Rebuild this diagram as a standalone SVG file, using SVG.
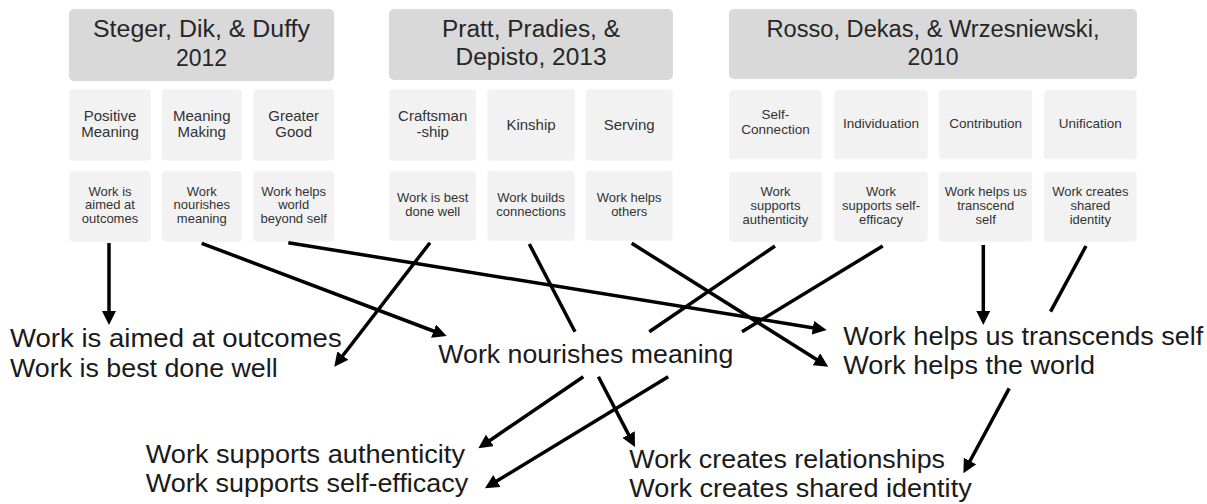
<svg xmlns="http://www.w3.org/2000/svg" width="1207" height="504" viewBox="0 0 1207 504">
<style>
.hdr{fill:#d9d9d9}
.sub{fill:#f2f2f2}
text{font-family:"Liberation Sans",Arial,sans-serif}
.ht{font-size:23px;fill:#262626;text-anchor:middle}
.s1{font-size:15px;fill:#333;text-anchor:middle}
.s1r{font-size:13.5px;fill:#333;text-anchor:middle}
.s2{font-size:13px;fill:#333;text-anchor:middle}
.big{font-size:25px;fill:#1a1a1a}
.conn path{fill:none;stroke:#000;stroke-width:3.5;marker-end:url(#ah)}
</style>
<defs>
<marker id="ah" markerUnits="userSpaceOnUse" markerWidth="14" markerHeight="14" viewBox="0 0 14 14" refX="4" refY="7" orient="auto"><path d="M0,0 L14,7 L0,14 z" fill="#000"/></marker>
</defs>
<rect width="1207" height="504" fill="#fff"/>

<g id="steger">
<rect class="hdr" x="69" y="9" width="265" height="72" rx="5"/>
<text class="ht" x="201.5" y="37.3" textLength="217" lengthAdjust="spacingAndGlyphs">Steger, Dik, &amp; Duffy</text>
<text class="ht" x="201.5" y="65.7">2012</text>
</g>
<g id="pratt">
<rect class="hdr" x="389" y="9" width="284" height="71" rx="5"/>
<text class="ht" x="531" y="37.3" textLength="178" lengthAdjust="spacingAndGlyphs">Pratt, Pradies, &amp;</text>
<text class="ht" x="531" y="65" textLength="151" lengthAdjust="spacingAndGlyphs">Depisto, 2013</text>
</g>
<g id="rosso">
<rect class="hdr" x="729" y="9" width="408" height="70" rx="5"/>
<text class="ht" x="933" y="37.3" textLength="333" lengthAdjust="spacingAndGlyphs">Rosso, Dekas, &amp; Wrzesniewski,</text>
<text class="ht" x="933" y="65">2010</text>
</g>

<g id="positive-meaning">
<rect class="sub" x="69.3" y="89.3" width="81.4" height="71.4" rx="4"/>
<text class="s1" x="110" y="120.7">Positive</text>
<text class="s1" x="110" y="137.3">Meaning</text>
</g>
<g id="meaning-making">
<rect class="sub" x="162" y="89.3" width="79.7" height="71.4" rx="4"/>
<text class="s1" x="201.8" y="120.7">Meaning</text>
<text class="s1" x="201.8" y="137.3">Making</text>
</g>
<g id="greater-good">
<rect class="sub" x="253.3" y="89.3" width="80.7" height="71.4" rx="4"/>
<text class="s1" x="293.7" y="120.7">Greater</text>
<text class="s1" x="293.7" y="137.3">Good</text>
</g>
<g id="outcomes-box">
<rect class="sub" x="69.3" y="170.7" width="81.4" height="71" rx="4"/>
<text class="s2" x="110" y="195.5">Work is</text>
<text class="s2" x="110" y="209">aimed at</text>
<text class="s2" x="110" y="222.5">outcomes</text>
</g>
<g id="nourishes-box">
<rect class="sub" x="162" y="170.7" width="79.7" height="71" rx="4"/>
<text class="s2" x="201.8" y="195.5">Work</text>
<text class="s2" x="201.8" y="209">nourishes</text>
<text class="s2" x="201.8" y="222.5">meaning</text>
</g>
<g id="beyond-self-box">
<rect class="sub" x="253.3" y="170.7" width="80.7" height="71" rx="4"/>
<text class="s2" x="293.7" y="195.5">Work helps</text>
<text class="s2" x="293.7" y="209">world</text>
<text class="s2" x="293.7" y="222.5">beyond self</text>
</g>

<g id="craftsmanship">
<rect class="sub" x="389.3" y="89.3" width="86.7" height="71.4" rx="4"/>
<text class="s1" x="432.7" y="120.7">Craftsman</text>
<text class="s1" x="432.7" y="136.7">-ship</text>
</g>
<g id="kinship">
<rect class="sub" x="487.3" y="89.3" width="87.7" height="71.4" rx="4"/>
<text class="s1" x="531" y="130">Kinship</text>
</g>
<g id="serving">
<rect class="sub" x="585.7" y="89.3" width="87" height="71.4" rx="4"/>
<text class="s1" x="629.2" y="130">Serving</text>
</g>
<g id="done-well-box">
<rect class="sub" x="389.3" y="170.7" width="86.7" height="70" rx="4"/>
<text class="s2" x="432.7" y="202.3">Work is best</text>
<text class="s2" x="432.7" y="215.7">done well</text>
</g>
<g id="connections-box">
<rect class="sub" x="487.3" y="170.7" width="87.7" height="70" rx="4"/>
<text class="s2" x="531" y="202.3">Work builds</text>
<text class="s2" x="531" y="215.7">connections</text>
</g>
<g id="others-box">
<rect class="sub" x="585.7" y="170.7" width="87" height="70" rx="4"/>
<text class="s2" x="629.2" y="202.3">Work helps</text>
<text class="s2" x="629.2" y="215.7">others</text>
</g>

<g id="self-connection">
<rect class="sub" x="729.3" y="90" width="92.4" height="69.3" rx="4"/>
<text class="s1r" x="775.5" y="119.3">Self-</text>
<text class="s1r" x="775.5" y="134.3">Connection</text>
</g>
<g id="individuation">
<rect class="sub" x="834.3" y="90" width="93.4" height="69.3" rx="4"/>
<text class="s1r" x="881" y="128.3">Individuation</text>
</g>
<g id="contribution">
<rect class="sub" x="939" y="90" width="93.3" height="69.3" rx="4"/>
<text class="s1r" x="985.7" y="128.3">Contribution</text>
</g>
<g id="unification">
<rect class="sub" x="1044" y="90" width="92.7" height="69.3" rx="4"/>
<text class="s1r" x="1090.3" y="128.3">Unification</text>
</g>
<g id="authenticity-box">
<rect class="sub" x="729.3" y="171.7" width="92.4" height="70" rx="4"/>
<text class="s2" x="775.5" y="196">Work</text>
<text class="s2" x="775.5" y="210">supports</text>
<text class="s2" x="775.5" y="224">authenticity</text>
</g>
<g id="self-efficacy-box">
<rect class="sub" x="834.3" y="171.7" width="93.4" height="70" rx="4"/>
<text class="s2" x="881" y="196">Work</text>
<text class="s2" x="881" y="210">supports self-</text>
<text class="s2" x="881" y="224">efficacy</text>
</g>
<g id="transcend-box">
<rect class="sub" x="939" y="171.7" width="93.3" height="70" rx="4"/>
<text class="s2" x="985.7" y="196">Work helps us</text>
<text class="s2" x="985.7" y="210">transcend</text>
<text class="s2" x="985.7" y="224">self</text>
</g>
<g id="shared-identity-box">
<rect class="sub" x="1044" y="171.7" width="92.7" height="70" rx="4"/>
<text class="s2" x="1090.3" y="196">Work creates</text>
<text class="s2" x="1090.3" y="210">shared</text>
<text class="s2" x="1090.3" y="224">identity</text>
</g>

<g id="connectors" class="conn">
<path d="M109,243 L109,315"/>
<path d="M201.7,243.3 L437.3,332.5"/>
<path d="M288.3,242.7 L816.8,328.4"/>
<path d="M430,242.7 L340.4,358.8"/>
<path d="M529.3,244 L575,331.7 M598.4,376.7 L630.4,438.1"/>
<path d="M631.7,243.3 L819.8,361.4"/>
<path d="M775,246 L649.3,331.7 M583.3,376.7 L486.6,442.7"/>
<path d="M882.7,246 L742,331.7 M668.2,376.7 L493.5,483.1"/>
<path d="M983.3,245 L983.3,315"/>
<path d="M1086,246 L1050.5,311.7 M1009.2,388.3 L968.1,464.5"/>
</g>

<g id="label-left">
<text class="big" x="10" y="347.3" textLength="331.7" lengthAdjust="spacingAndGlyphs">Work is aimed at outcomes</text>
<text class="big" x="10" y="376.7" textLength="267.7" lengthAdjust="spacingAndGlyphs">Work is best done well</text>
</g>
<g id="label-center">
<text class="big" x="438.3" y="363.3" textLength="295" lengthAdjust="spacingAndGlyphs">Work nourishes meaning</text>
</g>
<g id="label-right">
<text class="big" x="843.3" y="345" textLength="360" lengthAdjust="spacingAndGlyphs">Work helps us transcends self</text>
<text class="big" x="843.3" y="374" textLength="251.7" lengthAdjust="spacingAndGlyphs">Work helps the world</text>
</g>
<g id="label-bottom-left">
<text class="big" x="145.7" y="463.3" textLength="319.3" lengthAdjust="spacingAndGlyphs">Work supports authenticity</text>
<text class="big" x="145.7" y="491.7" textLength="322.6" lengthAdjust="spacingAndGlyphs">Work supports self-efficacy</text>
</g>
<g id="label-bottom-right">
<text class="big" x="629.3" y="468.3" textLength="315.7" lengthAdjust="spacingAndGlyphs">Work creates relationships</text>
<text class="big" x="629.3" y="496.7" textLength="342.4" lengthAdjust="spacingAndGlyphs">Work creates shared identity</text>
</g>
</svg>
